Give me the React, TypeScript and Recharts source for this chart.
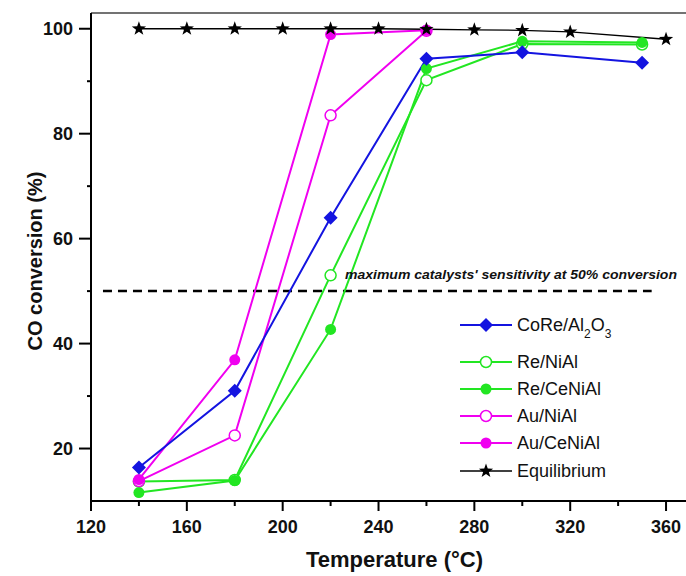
import React from "react";
import { LineChart, Line, XAxis, YAxis, ReferenceLine, ReferenceDot } from "recharts";

// temperatures (°C) and CO conversion (%)
const catalystTemps = [140, 180, 220, 260, 300, 350];
const auTemps = [140, 180, 220, 260];
const equilibriumTemps = [140, 160, 180, 200, 220, 240, 260, 280, 300, 320, 360];

const coReAl2O3 = [16.4, 31.0, 64.0, 94.3, 95.5, 93.5];
const reNiAl = [13.7, 14.0, 53.0, 90.2, 97.1, 97.0];
const reCeNiAl = [11.6, 13.9, 42.7, 92.4, 97.6, 97.4];
const auNiAl = [13.8, 22.5, 83.5, 99.6];
const auCeNiAl = [14.1, 36.9, 98.9, 99.7];
const equilibrium = [100, 100, 100, 100, 100, 100, 99.9, 99.8, 99.7, 99.4, 98.0];

const xTicks = [120, 140, 160, 180, 200, 220, 240, 260, 280, 300, 320, 340, 360];
const xMajor = [120, 160, 200, 240, 280, 320, 360];
const yTicks = [20, 30, 40, 50, 60, 70, 80, 90, 100];
const yMajor = [20, 40, 60, 80, 100];

const sensitivityLevel = 50;
const sensitivityNote = "maximum catalysts' sensitivity at 50% conversion";

const FONT = "'Liberation Sans', Arial, sans-serif";
const BLUE = "#1414e0";
const GREEN = "#22e622";
const MAGENTA = "#f000f0";

const pts = (xs: number[], ys: number[]) => xs.map((x, i) => ({ x, y: ys[i] }));

type Marker = "diamond" | "open" | "filled" | "star";

function starPath(cx: number, cy: number, R: number, r: number) {
  let d = "";
  for (let i = 0; i < 10; i++) {
    const rad = i % 2 === 0 ? R : r;
    const a = -Math.PI / 2 + (i * Math.PI) / 5;
    d += (i === 0 ? "M" : "L") + (cx + rad * Math.cos(a)).toFixed(2) + "," + (cy + rad * Math.sin(a)).toFixed(2);
  }
  return d + "Z";
}

function MarkerShape({ kind, cx, cy, color }: { kind: Marker; cx: number; cy: number; color: string }) {
  if (kind === "diamond")
    return <polygon points={`${cx},${cy - 7} ${cx + 7},${cy} ${cx},${cy + 7} ${cx - 7},${cy}`} fill={color} />;
  if (kind === "open") return <circle cx={cx} cy={cy} r={5.5} fill="#fff" stroke={color} strokeWidth={1.5} />;
  if (kind === "filled") return <circle cx={cx} cy={cy} r={5.5} fill={color} />;
  return <path d={starPath(cx, cy, 7.5, 3)} fill="#000" />;
}

const dotFor = (kind: Marker, color: string) => (p: any) =>
  p.cx == null ? <g key={p.key} /> : (
    <g key={p.key}>
      <MarkerShape kind={kind} cx={p.cx} cy={p.cy} color={color} />
    </g>
  );

const series = [
  { name: "Re/NiAl", data: pts(catalystTemps, reNiAl), color: GREEN, kind: "open" as Marker, w: 2 },
  { name: "Re/CeNiAl", data: pts(catalystTemps, reCeNiAl), color: GREEN, kind: "filled" as Marker, w: 2 },
  { name: "Au/NiAl", data: pts(auTemps, auNiAl), color: MAGENTA, kind: "open" as Marker, w: 2 },
  { name: "Au/CeNiAl", data: pts(auTemps, auCeNiAl), color: MAGENTA, kind: "filled" as Marker, w: 2 },
  { name: "CoRe/Al2O3", data: pts(catalystTemps, coReAl2O3), color: BLUE, kind: "diamond" as Marker, w: 2 },
  { name: "Equilibrium", data: pts(equilibriumTemps, equilibrium), color: "#000", kind: "star" as Marker, w: 1.3 },
];

const legendOrder = ["CoRe/Al2O3", "Re/NiAl", "Re/CeNiAl", "Au/NiAl", "Au/CeNiAl", "Equilibrium"];
const legendRows = [325, 362, 389, 416, 443, 471];

function XTick({ x, y, payload }: any) {
  const major = xMajor.includes(payload.value);
  return (
    <g>
      <line x1={x} x2={x} y1={y} y2={y + (major ? 10 : 5)} stroke="#000" strokeWidth={2} />
      {major && (
        <text x={x} y={y + 32} textAnchor="middle" fontFamily={FONT} fontWeight="bold" fontSize={18} fill="#111">
          {payload.value}
        </text>
      )}
    </g>
  );
}

function YTick({ x, y, payload }: any) {
  const major = yMajor.includes(payload.value);
  return (
    <g>
      <line x1={x - (major ? 12 : 4)} x2={x} y1={y} y2={y} stroke="#000" strokeWidth={2} />
      {major && (
        <text x={x - 18} y={y} dy="0.36em" textAnchor="end" fontFamily={FONT} fontWeight="bold" fontSize={18} fill="#111">
          {payload.value}
        </text>
      )}
    </g>
  );
}

function Legend() {
  return (
    <svg width={686} height={576} style={{ position: "absolute", left: 0, top: 0, pointerEvents: "none" }}>
      {legendOrder.map((n, i) => {
        const s = series.find((q) => q.name === n)!;
        const cy = legendRows[i];
        return (
          <g key={n}>
            <line x1={460} x2={512} y1={cy} y2={cy} stroke={s.color} strokeWidth={s.w} />
            <MarkerShape kind={s.kind} cx={486} cy={cy} color={s.color} />
            <text x={517} y={cy} dy="0.36em" fontFamily={FONT} fontSize={18} fill="#111">
              {n === "CoRe/Al2O3" ? (
                <>
                  CoRe/Al<tspan fontSize={12} dy={7}>2</tspan>
                  <tspan dy={-7}>O</tspan>
                  <tspan fontSize={12} dy={7}>3</tspan>
                </>
              ) : (
                n
              )}
            </text>
          </g>
        );
      })}
    </svg>
  );
}

export default function App() {
  return (
    <div style={{ position: "absolute", left: 0, top: 0, width: 686, height: 576, overflow: "hidden", background: "#fff" }}>
      <LineChart width={690} height={576} margin={{ top: 13, right: 0, bottom: 0, left: 0 }}>
        <XAxis
          dataKey="x"
          type="number"
          domain={[120, 370]}
          ticks={xTicks}
          allowDuplicatedCategory={false}
          height={75}
          tickSize={0}
          tickMargin={0}
          tickLine={false}
          tick={<XTick />}
          axisLine={{ stroke: "#000", strokeWidth: 2 }}
          label={{
            content: ({ viewBox }: any) => (
              <text
                x={viewBox.x + viewBox.width / 2 + 4}
                y={viewBox.y + 66}
                textAnchor="middle"
                fontFamily={FONT}
                fontWeight="bold"
                fontSize={22}
                fill="#111"
              >
                Temperature (°C)
              </text>
            ),
          }}
        />
        <YAxis
          type="number"
          domain={[10, 103]}
          ticks={yTicks}
          width={91}
          tickSize={0}
          tickMargin={0}
          tickLine={false}
          tick={<YTick />}
          axisLine={{ stroke: "#000", strokeWidth: 2 }}
          label={{
            content: ({ viewBox }: any) => {
              const cx = 35;
              const cy = viewBox.y + viewBox.height / 2 + 4;
              return (
                <text
                  x={cx}
                  y={cy}
                  transform={`rotate(-90 ${cx} ${cy})`}
                  textAnchor="middle"
                  dy="0.36em"
                  fontFamily={FONT}
                  fontWeight="bold"
                  fontSize={20}
                  fill="#111"
                >
                  CO conversion (%)
                </text>
              );
            },
          }}
        />
        <ReferenceLine y={103} stroke="#444" strokeWidth={1.5} />
        <ReferenceLine
          segment={[
            { x: 125, y: sensitivityLevel },
            { x: 354, y: sensitivityLevel },
          ]}
          stroke="#000"
          strokeWidth={2.5}
          strokeDasharray="9 6"
        />
        <ReferenceDot
          x={226}
          y={sensitivityLevel}
          r={0}
          fill="none"
          stroke="none"
          label={{
            content: ({ viewBox }: any) => (
              <text
                x={viewBox.x}
                y={viewBox.y - 12}
                fontFamily={FONT}
                fontStyle="italic"
                fontWeight="bold"
                fontSize={12.5}
                fill="#111"
                textLength={332}
                lengthAdjust="spacingAndGlyphs"
              >
                {sensitivityNote}
              </text>
            ),
          }}
        />
        {series.map((s) => (
          <Line
            key={s.name}
            data={s.data}
            dataKey="y"
            name={s.name}
            type="linear"
            stroke={s.color}
            strokeWidth={s.w}
            dot={dotFor(s.kind, s.color)}
            activeDot={false}
            isAnimationActive={false}
          />
        ))}
      </LineChart>
      <Legend />
    </div>
  );
}
